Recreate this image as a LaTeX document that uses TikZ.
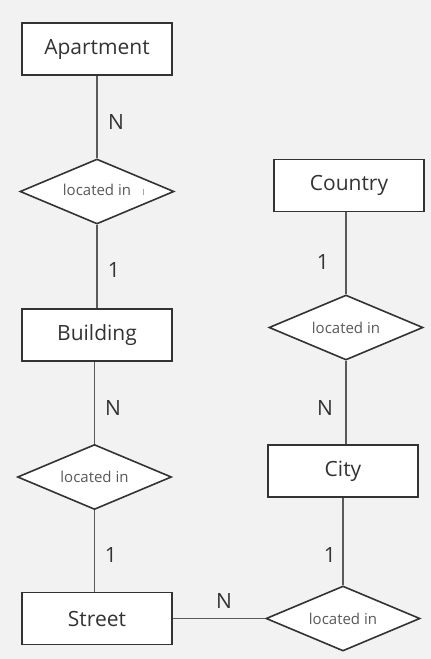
\documentclass[tikz,border=0pt]{standalone}
\usepackage{fontspec}
\setmainfont{Open Sans}
\usetikzlibrary{shapes.geometric}
\definecolor{bg}{HTML}{F2F2F2}
\definecolor{edge}{HTML}{333333}
\definecolor{conn}{HTML}{5A5A5A}
\definecolor{txt}{HTML}{333333}
\definecolor{reltxt}{HTML}{595959}
\tikzset{
  entity/.style={draw=edge, fill=white, line width=1.6pt, minimum width=150pt, minimum height=52pt, inner sep=0pt, font=\fontsize{21pt}{24pt}\selectfont, text=txt},
  rel/.style={draw=edge, fill=white, line width=1.6pt, diamond, aspect=2.37, minimum width=154pt, minimum height=65pt, inner sep=0pt, font=\fontsize{15pt}{18pt}\selectfont, text=reltxt},
  conn/.style={draw=conn, line width=1.2pt},
  card/.style={font=\fontsize{21pt}{24pt}\selectfont, text=txt, inner sep=0pt}
}
\begin{document}
\begin{tikzpicture}[x=1pt,y=-1pt]
\fill[bg] (0,0) rectangle (431,659);
\useasboundingbox (0,0) rectangle (431,659);
% nodes
\node[entity] (apt) at (97,49) {Apartment};
\node[rel] (r1) at (97,191.5) {};
\node[font=\fontsize{15pt}{18pt}\selectfont, text=reltxt] (r1t) at (97,190) {located in};
\node[entity] (bld) at (97,335) {Building};
\node[rel] (r2) at (94.5,477) {located in};
\node[entity] (str) at (97,618.5) {Street};
\node[entity] (cty) at (349,185.5) {Country};
\node[rel] (r3) at (346,327.5) {located in};
\node[entity] (city) at (343,471) {City};
\node[rel] (r4) at (343,618.5) {located in};
% cursor mark
\coordinate (cur) at (143,192);
\draw[draw=black!35, line width=0.8pt] ([yshift=-3pt]cur) -- ([yshift=3pt]cur);
% connectors
\draw[conn] (apt.south -| r1.north) -- (r1.north);
\draw[conn] (r1.south) -- (r1.south |- bld.north);
\draw[conn] (bld.south -| r2.north) -- (r2.north);
\draw[conn] (r2.south) -- (r2.south |- str.north);
\draw[conn] (cty.south -| r3.north) -- (r3.north);
\draw[conn] (r3.south) -- (r3.south |- city.north);
\draw[conn] (city.south -| r4.north) -- (r4.north);
\draw[conn] (str.east) -- (r4.west);
% cardinalities
\node[card] (c1) at (116,122) {N};
\node[card] (c2) at (114,270) {1};
\node[card] (c3) at (113,408) {N};
\node[card] (c4) at (111,555) {1};
\node[card] (c5) at (323,262) {1};
\node[card] (c6) at (325,408) {N};
\node[card] (c7) at (330,555) {1};
\node[card] (c8) at (224,601) {N};
\end{tikzpicture}
\end{document}
